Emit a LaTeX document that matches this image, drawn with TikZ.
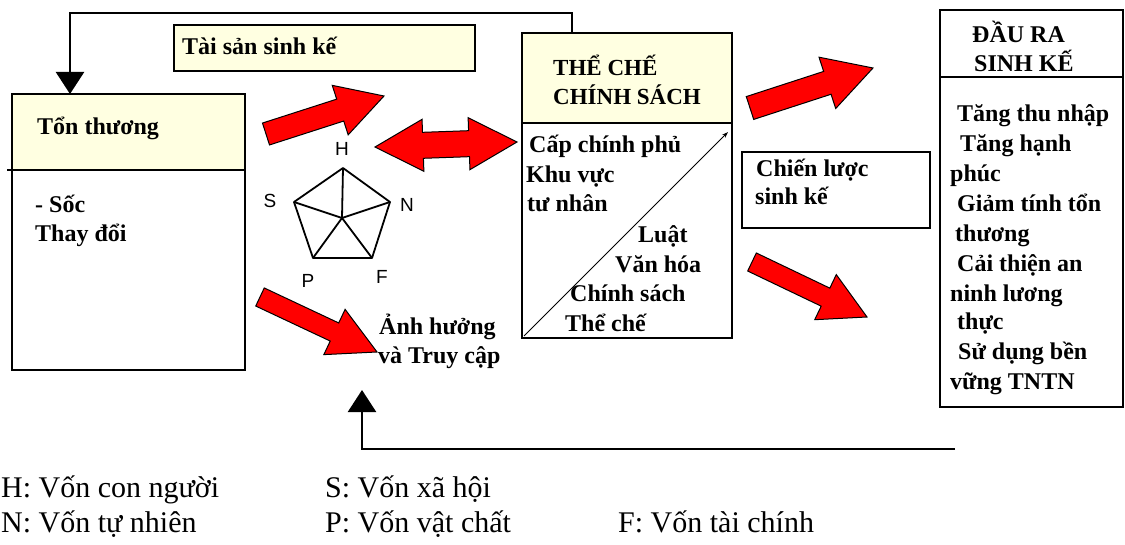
\documentclass[tikz,border=0pt]{standalone}
\usepackage{fontspec}
\setmainfont{Liberation Serif}
\newfontfamily\arialf{Liberation Sans}
\usetikzlibrary{arrows.meta,calc}
\definecolor{cream}{HTML}{FFFFE1}
\definecolor{arrred}{HTML}{FF0000}
\tikzset{
  boxline/.style={line width=2.4pt},
  boxnode/.style={draw, boxline, inner sep=0pt, outer sep=0pt, anchor=north west},
  btxt/.style={font=\fontsize{24}{29}\selectfont\bfseries, inner sep=0pt, anchor=base west},
  htxt/.style={font=\fontsize{23}{28}\selectfont\bfseries, inner sep=0pt, anchor=base west},
  ltxt/.style={font=\fontsize{30}{35}\selectfont, inner sep=0pt, anchor=base west},
  plabel/.style={font=\arialf\fontsize{19}{21}\selectfont, inner sep=0pt},
  redarrow/.style={fill=arrred, draw=black, line width=1pt, line join=miter},
  fb/.style={line width=2.4pt, -{Triangle[width=28pt,length=22pt]}},
  pent/.style={line width=1.8pt, line join=round}
}
\newcommand\blkarrow[5]{%
  \coordinate (bkC) at ($(#2)!#5!(#1)$);
  \filldraw[redarrow] ($(#1)!#3!90:(#2)$) -- ($(bkC)!#3!-90:(#1)$) -- ($(bkC)!#4!-90:(#1)$) -- (#2)
     -- ($(bkC)!#4!90:(#1)$) -- ($(bkC)!#3!90:(#1)$) -- ($(#1)!#3!-90:(#2)$) -- cycle;
}
\newcommand\dblarrow[5]{%
  \coordinate (bkC) at ($(#1)!#5!(#2)$);
  \coordinate (bkD) at ($(#2)!#5!(#1)$);
  \filldraw[redarrow] (#1) -- ($(bkC)!#4!90:(#2)$) -- ($(bkC)!#3!90:(#2)$) -- ($(bkD)!#3!-90:(#1)$)
     -- ($(bkD)!#4!-90:(#1)$) -- (#2) -- ($(bkD)!#4!90:(#1)$) -- ($(bkD)!#3!90:(#1)$)
     -- ($(bkC)!#3!-90:(#2)$) -- ($(bkC)!#4!-90:(#2)$) -- cycle;
}
\begin{document}
\begin{tikzpicture}[x=1pt,y=-1pt]
\useasboundingbox (0,0) rectangle (1125,545);
\fill[white] (0,0) rectangle (1125,545);

% header fills
\fill[cream] (12,94) rectangle (245,170);
\fill[cream] (522,33) rectangle (732,123);

% boxes
\node[boxnode, minimum width=233pt, minimum height=276pt] (ton) at (12,94) {};
\node[boxnode, fill=cream, minimum width=301pt, minimum height=46pt, line width=2pt] (tai) at (174,25) {};
\node[boxnode, minimum width=210pt, minimum height=305pt] (the) at (522,33) {};
\node[boxnode, minimum width=188pt, minimum height=76pt] (chien) at (742,152) {};
\node[boxnode, minimum width=183pt, minimum height=397pt] (dau) at (940,10) {};

% dividers
\draw[boxline] (7,170) -- (245,170);
\draw[line width=2pt] (522,123) -- (732,123);
\draw[boxline] (940,77) -- (1123,77);

% diagonal in THE box
\coordinate (dg1) at (524,336);
\coordinate (dg2) at (728,132);
\draw[line width=1pt, -{Stealth[length=6pt,width=4pt]}] (dg1) -- (dg2);

% texts
\node[btxt] (tonT) at (37,135) {Tổn thương};
\node[btxt] (soc) at (35,213) {- Sốc};
\node[btxt] (thay) at (35,242) {Thay đổi};
\node[btxt] (taiT) at (182,55) {Tài sản sinh kế};
\node[htxt] (the1) at (553,76) {THỂ CHẾ};
\node[htxt] (the2) at (553,105) {CHÍNH SÁCH};
\node[btxt] (cap) at (529,153) {Cấp chính phủ};
\node[btxt] (khu) at (526,183) {Khu vực};
\node[btxt] (tu) at (527,212) {tư nhân};
\node[btxt] (luat) at (638,243) {Luật};
\node[btxt] (van) at (615,273) {Văn hóa};
\node[btxt] (cs) at (570,302) {Chính sách};
\node[btxt] (tc) at (565,332) {Thể chế};
\node[btxt] (chien1) at (756,177) {Chiến lược};
\node[btxt] (chien2) at (755,205) {sinh kế};
\node[btxt] (dau1) at (972,43) {ĐẦU RA};
\node[btxt] (dau2) at (974,72) {SINH KẾ};
\node[btxt] (o1) at (957,122) {Tăng thu nhập};
\node[btxt] (o2) at (960,152) {Tăng hạnh};
\node[btxt] (o3) at (950,182) {phúc};
\node[btxt] (o4) at (957,212) {Giảm tính tổn};
\node[btxt] (o5) at (955,242) {thương};
\node[btxt] (o6) at (957,272) {Cải thiện an};
\node[btxt] (o7) at (950,302) {ninh lương};
\node[btxt] (o8) at (957,330) {thực};
\node[btxt] (o9) at (958,360) {Sử dụng bền};
\node[btxt] (o10) at (950,390) {vững TNTN};
\node[btxt] (anh1) at (379,335) {Ảnh hưởng};
\node[btxt] (anh2) at (378,363) {và Truy cập};

% pentagon
\coordinate (pH) at (343,168);
\coordinate (pN) at (390,202);
\coordinate (pF) at (372,258);
\coordinate (pP) at (313,258);
\coordinate (pS) at (294,202);
\coordinate (pC) at (342,218);
\draw[pent] (pH) -- (pN) -- (pF) -- (pP) -- (pS) -- cycle;
\foreach \v in {pH,pN,pF,pP,pS} \draw[pent] (pC) -- (\v);
\node[plabel] (lH) at (342,149) {H};
\node[plabel] (lS) at (270,201) {S};
\node[plabel] (lN) at (407,205) {N};
\node[plabel] (lP) at (308,281) {P};
\node[plabel] (lF) at (382,277) {F};

% red arrows
\coordinate (a1t) at (266,134); \coordinate (a1h) at (384,96);
\blkarrow{a1t}{a1h}{11.5pt}{26pt}{46pt}
\coordinate (a2l) at (375,147); \coordinate (a2r) at (517,142);
\dblarrow{a2l}{a2r}{13pt}{26pt}{48pt}
\coordinate (a3t) at (260,297); \coordinate (a3h) at (377,352);
\blkarrow{a3t}{a3h}{10pt}{25pt}{47pt}
\coordinate (a4t) at (750,108); \coordinate (a4h) at (873,68);
\blkarrow{a4t}{a4h}{12pt}{27pt}{48pt}
\coordinate (a5t) at (752,262); \coordinate (a5h) at (867,317);
\blkarrow{a5t}{a5h}{10pt}{25pt}{46pt}

% feedback connectors
\draw[fb] ([xshift=50pt]the.north west) |- (70,13) -- ([xshift=58pt]ton.north west);
\coordinate (fbEnd) at (955,449);
\coordinate (fbTip) at (362,390);
\draw[fb] (fbEnd) -| (fbTip);

% legend
\node[ltxt] (lg1) at (1,497) {H: Vốn con người};
\node[ltxt] (lg2) at (325,497) {S: Vốn xã hội};
\node[ltxt] (lg3) at (1,532) {N: Vốn tự nhiên};
\node[ltxt] (lg4) at (325,532) {P: Vốn vật chất};
\node[ltxt] (lg5) at (618,532) {F: Vốn tài chính};
\end{tikzpicture}
\end{document}
